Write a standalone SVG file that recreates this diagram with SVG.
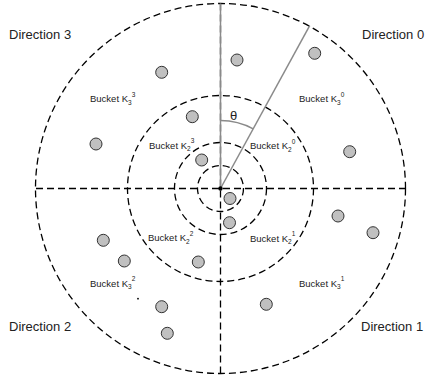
<svg xmlns="http://www.w3.org/2000/svg" width="427" height="382" viewBox="0 0 427 382">
<style>
.ring{fill:none;stroke:#000;stroke-width:1.3;stroke-dasharray:7 4}
.axis{stroke:#000;stroke-width:1.3;stroke-dasharray:7 4}
.gray{stroke:#8a8a8a;stroke-width:1.5;fill:none}
.pt{fill:#c0c0c0;stroke:#333;stroke-width:1}
.dir{font-family:"Liberation Sans",Arial,sans-serif;font-size:13px;fill:#222}
.bk{font-family:"Liberation Sans",Arial,sans-serif;font-size:9.5px;fill:#222}
.s{font-size:6.5px}
</style>
<g id="rings">
<circle class="ring" cx="220.5" cy="188.5" r="185"/>
<circle class="ring" cx="220.5" cy="188.5" r="93"/>
<circle class="ring" cx="220.5" cy="188.5" r="46"/>
<circle class="ring" cx="220.5" cy="188.5" r="23"/>
</g>
<g id="connectors">
<line class="axis" x1="36" y1="188.5" x2="406" y2="188.5"/>
<line class="axis" x1="220.5" y1="3.5" x2="220.5" y2="374"/>
<line class="gray" x1="220.5" y1="188.5" x2="220.5" y2="3.5"/>
<line class="gray" x1="220.5" y1="188.5" x2="309.7" y2="25.7"/>
<path class="gray" d="M220.5 120.5 A68 68 0 0 1 253.2 128.9" stroke-width="1.2"/>
</g>
<circle cx="220.5" cy="188.5" r="2.2" fill="#000"/>
<circle cx="138" cy="298.7" r="0.9" fill="#000"/>
<text class="dir" x="230" y="120" font-size="13" style="font-family:'Liberation Sans',Arial,sans-serif;font-size:13px;fill:#222">θ</text>
<g id="directions">
<text class="dir" x="9" y="38.5">Direction 3</text>
<text class="dir" x="362" y="38.5">Direction 0</text>
<text class="dir" x="9" y="331">Direction 2</text>
<text class="dir" x="361" y="331">Direction 1</text>
</g>
<g id="buckets">
<text class="bk" x="90" y="102">Bucket K<tspan class="s" dy="2.5">3</tspan><tspan class="s" dy="-8">3</tspan></text>
<text class="bk" x="149" y="148.5">Bucket K<tspan class="s" dy="2.5">2</tspan><tspan class="s" dy="-8">3</tspan></text>
<text class="bk" x="299" y="102">Bucket K<tspan class="s" dy="2.5">3</tspan><tspan class="s" dy="-8">0</tspan></text>
<text class="bk" x="250" y="149.3">Bucket K<tspan class="s" dy="2.5">2</tspan><tspan class="s" dy="-8">0</tspan></text>
<text class="bk" x="148" y="241">Bucket K<tspan class="s" dy="2.5">2</tspan><tspan class="s" dy="-8">2</tspan></text>
<text class="bk" x="90" y="286.5">Bucket K<tspan class="s" dy="2.5">3</tspan><tspan class="s" dy="-8">2</tspan></text>
<text class="bk" x="250" y="241.5">Bucket K<tspan class="s" dy="2.5">2</tspan><tspan class="s" dy="-8">1</tspan></text>
<text class="bk" x="299" y="286.5">Bucket K<tspan class="s" dy="2.5">3</tspan><tspan class="s" dy="-8">1</tspan></text>
</g>
<g id="points">
<circle class="pt" cx="161.7" cy="72.3" r="6"/>
<circle class="pt" cx="192.3" cy="116.7" r="6"/>
<circle class="pt" cx="96" cy="144" r="6"/>
<circle class="pt" cx="201.7" cy="160" r="6"/>
<circle class="pt" cx="237" cy="60" r="6"/>
<circle class="pt" cx="314.7" cy="53.3" r="6"/>
<circle class="pt" cx="349.7" cy="151.7" r="6"/>
<circle class="pt" cx="103.3" cy="240.3" r="6"/>
<circle class="pt" cx="124.3" cy="261" r="6"/>
<circle class="pt" cx="198.3" cy="262" r="6"/>
<circle class="pt" cx="230" cy="198.5" r="6"/>
<circle class="pt" cx="229.5" cy="222.7" r="6"/>
<circle class="pt" cx="161.7" cy="306.7" r="6"/>
<circle class="pt" cx="167.3" cy="333.3" r="6"/>
<circle class="pt" cx="338" cy="216" r="6"/>
<circle class="pt" cx="373" cy="232.7" r="6"/>
<circle class="pt" cx="266.3" cy="304.3" r="6"/>
</g>
</svg>
